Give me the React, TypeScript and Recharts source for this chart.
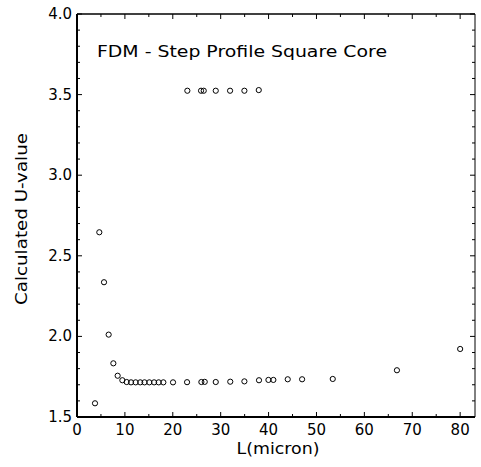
import React from 'react';
import { ScatterChart, Scatter, XAxis, YAxis, ReferenceLine } from 'recharts';

const lowerL = [3.76, 4.66, 5.64, 6.61, 7.59, 8.49, 9.47, 10.37, 11.28, 12.25, 13.2, 14.1, 15.1, 16.1, 17.06, 18.03, 20.05, 22.98, 25.97, 26.67, 28.97, 32.0, 34.95, 38.0, 39.97, 41.0, 44.0, 47.0, 53.4, 66.8, 80.0];
const lowerU = [1.585, 2.646, 2.336, 2.011, 1.833, 1.756, 1.728, 1.717, 1.715, 1.715, 1.715, 1.715, 1.715, 1.715, 1.715, 1.715, 1.715, 1.716, 1.717, 1.718, 1.717, 1.719, 1.721, 1.728, 1.730, 1.730, 1.734, 1.734, 1.736, 1.790, 1.922];

const upperL = [23.04, 25.9, 26.46, 28.97, 31.96, 34.95, 37.95];
const upperU = [3.524, 3.524, 3.524, 3.524, 3.524, 3.524, 3.528];

const xDomain = [0, 83.1];
const yDomain = [1.5, 4.0];
const xTicks = [0, 5, 10, 15, 20, 25, 30, 35, 40, 45, 50, 55, 60, 65, 70, 75, 80];
const yTicks = [1.5, 1.6, 1.7, 1.8, 1.9, 2.0, 2.1, 2.2, 2.3, 2.4, 2.5, 2.6, 2.7, 2.8, 2.9, 3.0, 3.1, 3.2, 3.3, 3.4, 3.5, 3.6, 3.7, 3.8, 3.9, 4.0];

const title = 'FDM - Step Profile Square Core';
const xTitle = 'L(micron)';
const yTitle = 'Calculated U-value';

const lowerData = lowerL.map((l, i) => ({ l, u: lowerU[i] }));
const upperData = upperL.map((l, i) => ({ l, u: upperU[i] }));

const W = 481;
const H = 467;
const MARGIN = { top: 14, right: 6, left: 0, bottom: 0 };
const PLOT_TOP = MARGIN.top;
const PLOT_RIGHT = W - MARGIN.right;

const FONT = '"DejaVu Sans", sans-serif';

const isMajorX = (v: number) => Math.abs(v % 10) < 1e-6;
const isMajorY = (v: number) => Math.abs(v * 2 - Math.round(v * 2)) < 1e-6;

const BottomTick = (p: any) => {
  const { x, y, payload } = p;
  const v = payload.value;
  const len = isMajorX(v) ? 5 : 3;
  return (
    <g>
      <line x1={x} x2={x} y1={y} y2={y - len} stroke="#000" strokeWidth={1} />
      <line x1={x} x2={x} y1={PLOT_TOP} y2={PLOT_TOP + len} stroke="#000" strokeWidth={1} />
      {isMajorX(v) && (
        <text x={x} y={y + 18} textAnchor="middle" fontFamily={FONT} fontSize={15} fill="#000">
          {String(v)}
        </text>
      )}
    </g>
  );
};

const LeftTick = (p: any) => {
  const { x, y, payload } = p;
  const v = payload.value;
  const len = isMajorY(v) ? 5 : 3;
  return (
    <g>
      <line x1={x} x2={x + len} y1={y} y2={y} stroke="#000" strokeWidth={1} />
      <line x1={PLOT_RIGHT} x2={PLOT_RIGHT - len} y1={y} y2={y} stroke="#000" strokeWidth={1} />
      {isMajorY(v) && (
        <text x={x - 5} y={y + 5} textAnchor="end" fontFamily={FONT} fontSize={15} fill="#000">
          {v.toFixed(1)}
        </text>
      )}
    </g>
  );
};

const Circle = (p: any) => {
  const { cx, cy } = p;
  return <circle cx={cx} cy={cy} r={2.6} fill="none" stroke="#000" strokeWidth={1} />;
};

export default function App() {
  return (
    <div style={{ position: 'absolute', left: 0, top: 0, width: W, height: H, background: '#fff' }}>
      <ScatterChart width={W} height={H} margin={MARGIN}>
        <XAxis
          xAxisId="b"
          dataKey="l"
          type="number"
          domain={xDomain}
          ticks={xTicks}
          interval={0}
          height={50}
          tickSize={0}
          tickMargin={0}
          tickLine={false}
          axisLine={false}
          tick={<BottomTick />}
        />
        <YAxis
          yAxisId="l"
          dataKey="u"
          type="number"
          domain={yDomain}
          ticks={yTicks}
          interval={0}
          width={77}
          tickSize={0}
          tickMargin={0}
          tickLine={false}
          axisLine={false}
          tick={<LeftTick />}
        />
        <ReferenceLine xAxisId="b" yAxisId="l" x={xDomain[0]} stroke="#000" strokeWidth={2} />
        <ReferenceLine xAxisId="b" yAxisId="l" x={xDomain[1]} stroke="#000" strokeWidth={1} />
        <ReferenceLine xAxisId="b" yAxisId="l" y={yDomain[0]} stroke="#000" strokeWidth={2} />
        <ReferenceLine xAxisId="b" yAxisId="l" y={yDomain[1]} stroke="#000" strokeWidth={1.5} />
        <Scatter xAxisId="b" yAxisId="l" data={lowerData} shape={<Circle />} isAnimationActive={false} />
        <Scatter xAxisId="b" yAxisId="l" data={upperData} shape={<Circle />} isAnimationActive={false} />
        <text x={97} y={57} fontFamily={FONT} fontSize={16} textLength={290} lengthAdjust="spacingAndGlyphs" fill="#000">
          {title}
        </text>
        <text x={278} y={454} textAnchor="middle" fontFamily={FONT} fontSize={15} textLength={83} lengthAdjust="spacingAndGlyphs" fill="#000">
          {xTitle}
        </text>
        <text
          x={27}
          y={219}
          textAnchor="middle"
          transform="rotate(-90 27 219)"
          fontFamily={FONT}
          fontSize={15}
          textLength={172}
          lengthAdjust="spacingAndGlyphs"
          fill="#000"
        >
          {yTitle}
        </text>
      </ScatterChart>
    </div>
  );
}
